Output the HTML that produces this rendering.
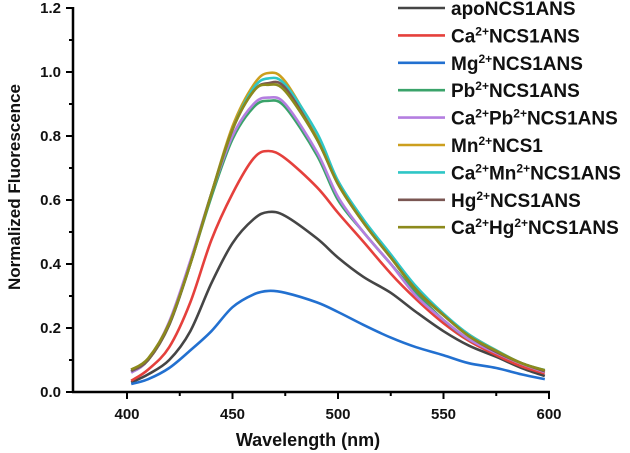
<!DOCTYPE html>
<html><head><meta charset="utf-8"><style>
html,body{margin:0;padding:0;background:#fff;}
svg{display:block;font-family:"Liberation Sans",Arial,sans-serif;font-weight:bold;}
</style></head><body>
<svg id="chart" width="630" height="453" viewBox="0 0 630 453" xmlns="http://www.w3.org/2000/svg">
<g id="axes"></g>
<g id="series"></g>
<g id="legend"></g>
<text x="308" y="446" font-size="18" text-anchor="middle" fill="#111">Wavelength (nm)</text>
<text transform="translate(20,187) rotate(-90)" font-size="17" text-anchor="middle" fill="#111">Normalized Fluorescence</text>
</svg>
<script>
const wavelengths=[402,410,420,430,440,450,460,467,475,490,500,512,525,537,550,562,575,587,598];
const apo=[0.03,0.055,0.10,0.19,0.34,0.465,0.54,0.5625,0.55,0.48,0.42,0.36,0.31,0.25,0.19,0.145,0.11,0.075,0.05];
const caS=[0.035,0.07,0.14,0.28,0.475,0.62,0.73,0.753,0.73,0.64,0.56,0.47,0.37,0.29,0.215,0.16,0.115,0.08,0.058];
const mg=[0.025,0.04,0.075,0.13,0.19,0.265,0.305,0.316,0.31,0.28,0.25,0.21,0.17,0.14,0.115,0.09,0.075,0.055,0.04];
const pb=[0.065,0.10,0.21,0.40,0.61,0.79,0.89,0.91,0.89,0.74,0.60,0.50,0.40,0.31,0.225,0.165,0.125,0.09,0.065];
const capb=[0.06,0.10,0.22,0.41,0.62,0.80,0.90,0.92,0.90,0.75,0.61,0.50,0.40,0.30,0.225,0.165,0.122,0.088,0.062];
const mn=[0.07,0.10,0.21,0.40,0.62,0.83,0.96,0.997,0.97,0.80,0.65,0.53,0.42,0.32,0.24,0.18,0.13,0.09,0.065];
const camn=[0.065,0.10,0.21,0.40,0.62,0.82,0.95,0.98,0.96,0.81,0.66,0.54,0.43,0.33,0.245,0.18,0.13,0.09,0.068];
const hg=[0.065,0.10,0.21,0.40,0.62,0.82,0.94,0.965,0.95,0.79,0.65,0.53,0.42,0.32,0.24,0.175,0.125,0.09,0.065];
const cahg=[0.07,0.105,0.215,0.40,0.62,0.82,0.94,0.96,0.94,0.79,0.65,0.53,0.42,0.32,0.24,0.175,0.128,0.09,0.068];
const xTicks=[400,450,500,550,600];
const yTicks=[0.0,0.2,0.4,0.6,0.8,1.0,1.2];
const legendLabels=['apoNCS1ANS','Ca<tspan baseline-shift="super" font-size="12">2+</tspan>NCS1ANS','Mg<tspan baseline-shift="super" font-size="12">2+</tspan>NCS1ANS','Pb<tspan baseline-shift="super" font-size="12">2+</tspan>NCS1ANS','Ca<tspan baseline-shift="super" font-size="12">2+</tspan>Pb<tspan baseline-shift="super" font-size="12">2+</tspan>NCS1ANS','Mn<tspan baseline-shift="super" font-size="12">2+</tspan>NCS1','Ca<tspan baseline-shift="super" font-size="12">2+</tspan>Mn<tspan baseline-shift="super" font-size="12">2+</tspan>NCS1ANS','Hg<tspan baseline-shift="super" font-size="12">2+</tspan>NCS1ANS','Ca<tspan baseline-shift="super" font-size="12">2+</tspan>Hg<tspan baseline-shift="super" font-size="12">2+</tspan>NCS1ANS'];
const seriesNames=['apo','ca','mg','pb','capb','mn','camn','hg','cahg'];
const seriesData=[apo,caS,mg,pb,capb,mn,camn,hg,cahg];
const colors=['#454545','#e5403c','#2270d0','#3aa36a','#b47ee0','#cc9f1e','#2ec6c6','#7a5652','#8c8a1c'];
const NS='http://www.w3.org/2000/svg';
const X0=127,X1=549,Y0=392,Y1=8;
function sx(w){return X0+(w-400)*(X1-X0)/200;}
function sy(v){return Y0-(v/1.2)*(Y0-Y1);}
function mk(t,a,p){const e=document.createElementNS(NS,t);for(const k in a)e.setAttribute(k,a[k]);p.appendChild(e);return e;}
const axes=document.getElementById('axes');
let yl=mk('line',{x1:73,y1:Y1-1,x2:73,y2:Y0+1,stroke:'#000','stroke-width':2.5},axes);


let xl=mk('line',{x1:72,y1:Y0,x2:sx(600)+1,y2:Y0,stroke:'#000','stroke-width':2.5},axes);


yTicks.forEach(v=>{
  const t=mk('line',{x1:66,y1:sy(v),x2:73,y2:sy(v),stroke:'#000','stroke-width':2},axes);
  
  
  if(v<1.2){const m=mk('line',{x1:69,y1:sy(v+0.1),x2:73,y2:sy(v+0.1),stroke:'#000','stroke-width':2},axes);
  
  }
  const l=mk('text',{x:61,y:sy(v)+5,'font-size':15,'text-anchor':'end',fill:'#111'},axes);
  l.textContent=v.toFixed(1);
  
  
});
[375].concat(xTicks).forEach(w=>{
  if(w>=400){const t=mk('line',{x1:sx(w),y1:Y0,x2:sx(w),y2:Y0+7,stroke:'#000','stroke-width':2},axes);
  
  
  const l=mk('text',{x:sx(w),y:Y0+27,'font-size':15,'text-anchor':'middle',fill:'#111'},axes);
  l.textContent=w;
  
  }
  if(w<600){const m=mk('line',{x1:sx(w+25),y1:Y0,x2:sx(w+25),y2:Y0+4,stroke:'#000','stroke-width':2},axes);
  
  }
});
const sg=document.getElementById('series');
function pathFor(vals){
  const pts=wavelengths.map((w,i)=>[sx(w),sy(vals[i])]);
  let d='M'+pts[0][0].toFixed(1)+','+pts[0][1].toFixed(1);
  for(let i=0;i<pts.length-1;i++){
    const p0=pts[Math.max(0,i-1)],p1=pts[i],p2=pts[i+1],p3=pts[Math.min(pts.length-1,i+2)];
    const c1=[p1[0]+(p2[0]-p0[0])/6,p1[1]+(p2[1]-p0[1])/6];
    const c2=[p2[0]-(p3[0]-p1[0])/6,p2[1]-(p3[1]-p1[1])/6];
    d+='C'+c1.map(n=>n.toFixed(1)).join(',')+' '+c2.map(n=>n.toFixed(1)).join(',')+' '+p2[0].toFixed(1)+','+p2[1].toFixed(1);
  }
  return d;
}
seriesData.forEach((vals,i)=>{
  const p=mk('path',{d:pathFor(vals),fill:'none',stroke:colors[i],'stroke-width':2.6,'stroke-linejoin':'round'},sg);
  
  
});
const lg=document.getElementById('legend');
legendLabels.forEach((lab,i)=>{
  const y=8+i*27.4;
  const l=mk('line',{x1:398,y1:y,x2:445,y2:y,stroke:colors[i],'stroke-width':2.6},lg);
  
  
  const t=mk('text',{x:451,y:y+7,'font-size':19,fill:'#111'},lg);
  t.innerHTML=lab;
  
  
});
</script>
</body></html>
